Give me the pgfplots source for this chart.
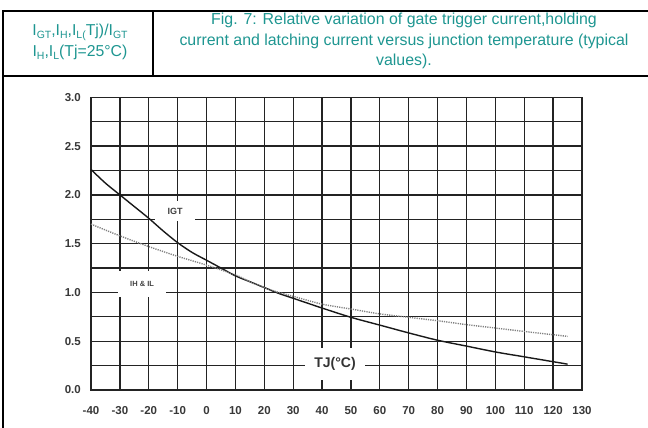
\documentclass[border=0pt]{standalone}
\usepackage{pgfplots}
\pgfplotsset{compat=1.18}
\usepackage{fontspec}
\setmainfont{Liberation Sans}
\definecolor{teal1}{RGB}{30,150,145}
\definecolor{gridc}{RGB}{35,35,35}
\newcommand\sub[1]{\raisebox{-0.35ex}{\fontsize{10.5}{10.5}\selectfont #1}}
\begin{document}
\begin{tikzpicture}
\useasboundingbox (0pt,0pt) rectangle (648pt,428pt);
% table frame
\draw[line width=1.2pt] (3pt,0pt) -- (3pt,417pt) -- (648pt,417pt);
\draw[line width=1.2pt] (3pt,352pt) -- (648pt,352pt);
\draw[line width=1.2pt] (153pt,417pt) -- (153pt,352pt);
\node[text=teal1, align=center, font=\fontsize{15.8}{21}\selectfont] at (80pt,386pt)
  {I\sub{GT},I\sub{H},I\sub{L(}Tj)/I\sub{GT}\\I\sub{H},I\sub{L}(Tj=25°C)};
\node[text=teal1, align=center, font=\fontsize{15.9}{20.5}\selectfont] at (404pt,387pt)
  {Fig. 7: Relative variation of gate trigger current,holding\\current and latching current versus junction temperature (typical\\values).};
\begin{axis}[
  at={(91pt,38pt)}, anchor=south west, scale only axis,
  width=491pt, height=292.7pt,
  xmin=-40, xmax=130, ymin=0, ymax=3,
  xtick={-40,-30,...,130},
  xticklabels={-40,-30,-20,-10,0,10,20,30,40,50,60,70,80,90,100,110,120,130},
  ytick={0,0.5,...,3},
  yticklabels={0.0,0.5,1.0,1.5,2.0,2.5,3.0},
  minor ytick={0.25,0.75,1.25,1.75,2.25,2.75},
  grid=both,
  major grid style={gridc,line width=1.3pt},
  minor grid style={gridc,line width=1.3pt},
  axis line style={gridc,line width=1.3pt},
  major tick length=0pt, minor tick length=0pt,
  ticklabel style={font=\bfseries\fontsize{11.5}{13}\selectfont, text=black!78, inner sep=0pt},
  xticklabel style={yshift=-16.5pt},
  yticklabel style={xshift=-10pt},
  clip=false,
]
\addplot[black!90, line width=1.4pt, smooth] coordinates {
 (-40,2.26) (-35,2.12) (-30,2.0) (-25,1.88) (-20,1.76) (-15,1.63) (-10,1.51)
 (-5,1.41) (0,1.33) (5,1.25) (10,1.17) (15,1.11) (20,1.05) (25,0.99) (30,0.94)
 (40,0.84) (50,0.745) (60,0.665) (70,0.585) (80,0.51) (90,0.45) (100,0.39)
 (110,0.34) (125,0.265)};
\addplot[black!50, line width=1.4pt, dash pattern=on 1.2pt off 1.1pt, smooth] coordinates {
 (-40,1.70) (-30,1.58) (-20,1.47) (-10,1.37) (0,1.28) (10,1.18) (15,1.11)
 (20,1.05) (25,1.0) (30,0.96) (40,0.88) (50,0.83) (60,0.78) (70,0.745)
 (80,0.71) (90,0.67) (100,0.635) (110,0.6) (125,0.55)};
\node[fill=white, inner sep=0pt, minimum width=40pt, minimum height=20pt,
  font=\bfseries\fontsize{9}{10}\selectfont, text=black!75] at (axis cs:-10.9,1.835) {IGT};
\node[fill=white, inner sep=0pt, minimum width=48pt, minimum height=26pt,
  font=\bfseries\fontsize{7.5}{8}\selectfont, text=black!75] at (axis cs:-22.3,1.086) {IH \& IL};
\node[fill=white, inner sep=0pt, minimum width=60pt, minimum height=32pt,
  font=\bfseries\fontsize{14}{16}\selectfont, text=black!80] at (axis cs:44.5,0.266) {TJ(°C)};
\end{axis}
\end{tikzpicture}
\end{document}
